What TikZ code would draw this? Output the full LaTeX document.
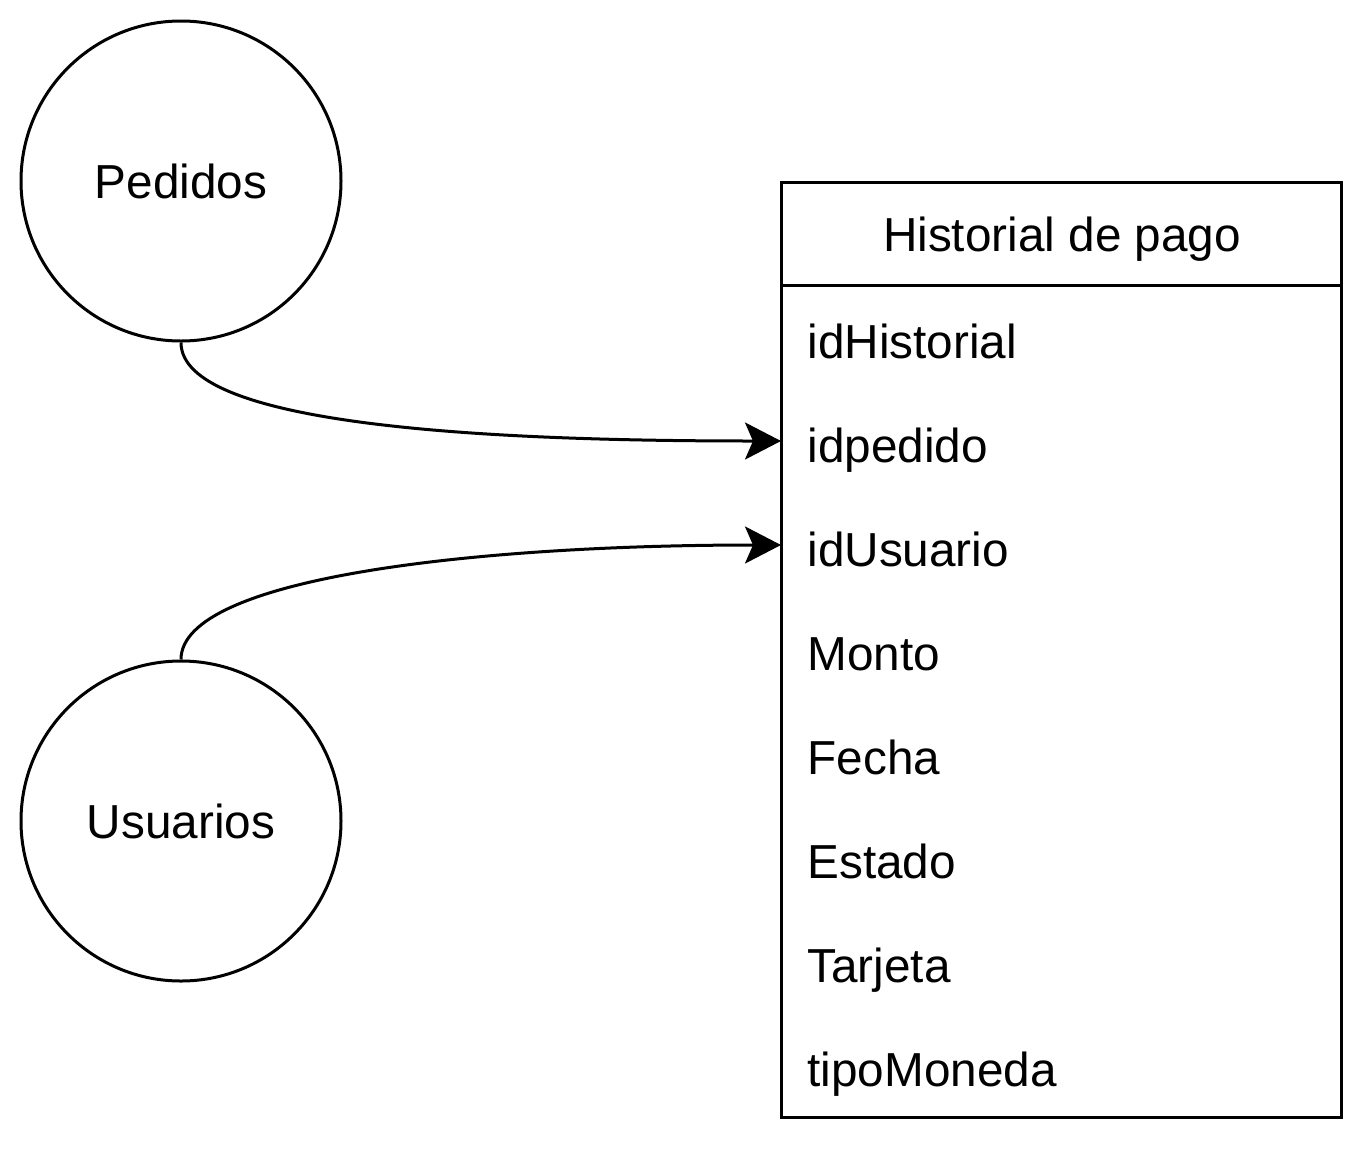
\documentclass[tikz,border=0pt]{standalone}
\usepackage{fontspec}
\setmainfont{Liberation Sans}
\usetikzlibrary{arrows.meta}
\begin{document}
\begin{tikzpicture}[x=1pt,y=-1pt,
  line width=3pt,
  ent/.style={draw,circle,minimum size=320pt,inner sep=0pt,font=\fontsize{47.7}{57}\selectfont},
  fld/.style={anchor=base west,inner sep=0pt,font=\fontsize{47.7}{57}\selectfont},
  hdr/.style={anchor=base,inner sep=0pt,font=\fontsize{47.7}{57}\selectfont},
  link/.style={-{Stealth[length=36pt,width=37pt,inset=8pt]}}]
\useasboundingbox (0,0) rectangle (1368,1152);
\node[ent] (ped) at (181,181) {Pedidos};
\node[ent] (usu) at (181,821) {Usuarios};
\draw (781,182) rectangle (1341,1117);
\draw (781,285) -- (1341,285);
\node[hdr] (h) at (1062,251) {Historial de pago};
\foreach \t/\n [count=\i from 0] in {idHistorial/f0,idpedido/f1,idUsuario/f2,Monto/f3,Fecha/f4,Estado/f5,Tarjeta/f6,tipoMoneda/f7}{
  \node[fld] (\n) at (806,{358+104*\i}) {\t};
  \coordinate (p\n) at (781,{337+104*\i});
}
\draw[link] (ped.south) .. controls (181,425) and (480,441) .. (pf1);
\draw[link] (usu.north) .. controls (181,577) and (480,545) .. (pf2);
\end{tikzpicture}
\end{document}
